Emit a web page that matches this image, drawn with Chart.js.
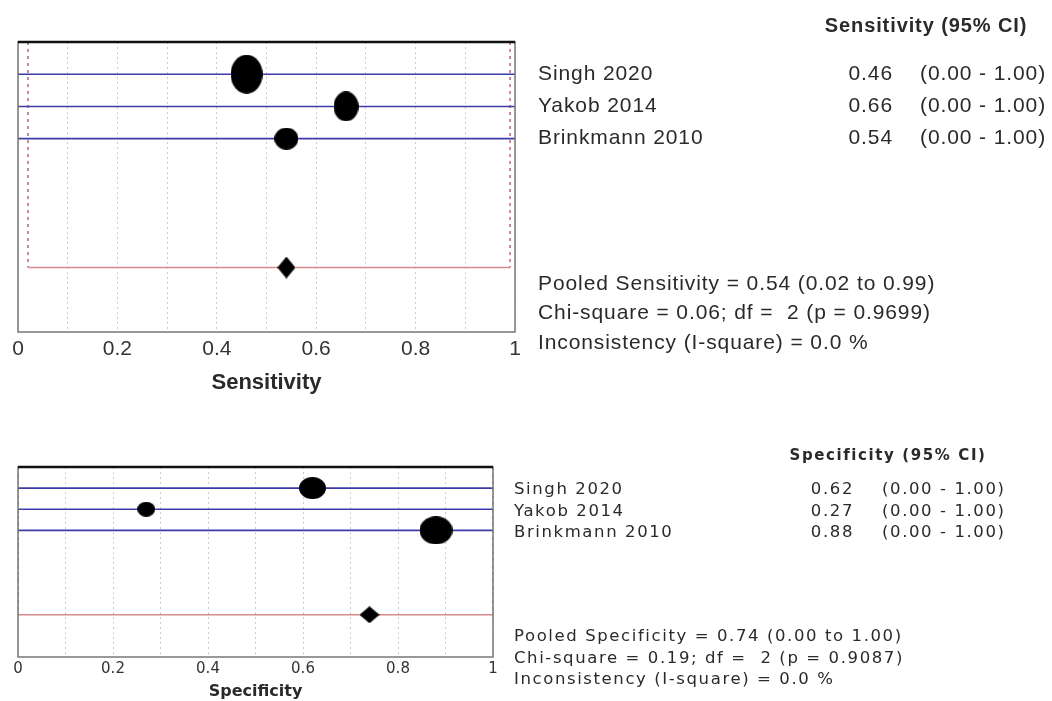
<!DOCTYPE html>
<html lang="en">
<head>
<meta charset="UTF-8" />
<title>Sensitivity / Specificity forest plot</title>
<script src="https://cdn.jsdelivr.net/npm/chart.js"></script>
<style>
	body {
		margin: 0;
		background: #fff;
		width: 1052px;
		height: 701px;
		overflow: hidden;
		position: relative;
	}
	.panel {
		position: absolute;
		left: 0;
		width: 1052px;
	}
	#sensPanel { top: 0; height: 400px; }
	#specPanel { top: 420px; height: 281px; }
</style>
</head>
<body>
<div class="panel" id="sensPanel"><canvas id="sensChart"></canvas></div>
<div class="panel" id="specPanel"><canvas id="specChart"></canvas></div>

<script>
// ---- data ----
const studies = ["Singh 2020", "Yakob 2014", "Brinkmann 2010"];
const studyRows = [1, 2, 3];
const pooledRow = 7;

const sensValues = [0.46, 0.66, 0.54];
const sensLower = [0.00, 0.00, 0.00];
const sensUpper = [1.00, 1.00, 1.00];
const sensPooled = [0.54, 0.02, 0.99]; // estimate, lower, upper
const sensStats = [
	"Pooled Sensitivity = 0.54 (0.02 to 0.99)",
	"Chi-square = 0.06; df =  2 (p = 0.9699)",
	"Inconsistency (I-square) = 0.0 %"
];

const specValues = [0.62, 0.27, 0.88];
const specLower = [0.00, 0.00, 0.00];
const specUpper = [1.00, 1.00, 1.00];
const specPooled = [0.74, 0.00, 1.00];
const specStats = [
	"Pooled Specificity = 0.74 (0.00 to 1.00)",
	"Chi-square = 0.19; df =  2 (p = 0.9087)",
	"Inconsistency (I-square) = 0.0 %"
];

const xTickLabels = ["0", "0.2", "0.4", "0.6", "0.8", "1"];

// ---- marker shapes (width, height in px) ----
const sensMarkers = [[32, 39], [25, 30], [24, 22]];
const specMarkers = [[27, 22], [18, 15], [33, 28]];

function ellipseMarker(w, h) {
	const c = document.createElement("canvas");
	c.width = w; c.height = h;
	const g = c.getContext("2d");
	g.fillStyle = "#000";
	g.beginPath();
	g.ellipse(w / 2, h / 2, w / 2, h / 2, 0, 0, Math.PI * 2);
	g.fill();
	return c;
}

function diamondMarker(w, h) {
	const c = document.createElement("canvas");
	c.width = w; c.height = h;
	const g = c.getContext("2d");
	g.fillStyle = "#000";
	g.beginPath();
	g.moveTo(w / 2, 0); g.lineTo(w, h / 2); g.lineTo(w / 2, h); g.lineTo(0, h / 2);
	g.closePath();
	g.fill();
	return c;
}

// frame + right-hand text table
const sidePanel = {
	id: "sidePanel",
	afterDraw(chart, args, o) {
		const { ctx, chartArea: a, scales: { y } } = chart;
		ctx.save();
		ctx.strokeStyle = "#777";
		ctx.lineWidth = 1.5;
		ctx.strokeRect(a.left, a.top, a.right - a.left, a.bottom - a.top);
		ctx.strokeStyle = "#111";
		ctx.lineWidth = 2.5;
		ctx.beginPath();
		ctx.moveTo(a.left, a.top);
		ctx.lineTo(a.right, a.top);
		ctx.stroke();

		ctx.fillStyle = "#2a2a2a";
		ctx.textBaseline = "middle";
		ctx.letterSpacing = o.spacing;
		ctx.font = o.headFont;
		ctx.textAlign = "center";
		ctx.fillText(o.header, o.headX, o.headY);

		ctx.font = o.font;
		ctx.beginPath();
		ctx.rect(0, 0, o.clipX, chart.height);
		ctx.clip();
		studies.forEach((name, i) => {
			const py = y.getPixelForValue(studyRows[i]) + o.rowShift;
			ctx.textAlign = "left";
			ctx.fillText(name, o.nameX, py);
			ctx.textAlign = "right";
			ctx.fillText(o.values[i].toFixed(2), o.valX, py);
			ctx.textAlign = "left";
			ctx.fillText("(" + o.lower[i].toFixed(2) + " - " + o.upper[i].toFixed(2) + ")", o.ciX, py);
		});
		o.stats.forEach((s, i) => ctx.fillText(s, o.nameX, o.statY[i]));
		ctx.restore();
	}
};

function forestChart(id, cfg) {
	const datasets = [
		{
			data: cfg.values.map((v, i) => ({ x: v, y: studyRows[i] })),
			pointStyle: cfg.markers.map(m => ellipseMarker(m[0], m[1])),
			pointRadius: 10,
			order: 0
		},
		{
			data: [{ x: cfg.pooled[0], y: pooledRow }],
			pointStyle: diamondMarker(cfg.diamond[0], cfg.diamond[1]),
			pointRadius: 10,
			order: 0
		}
	];
	cfg.values.forEach((v, i) => {
		datasets.push({
			data: [{ x: cfg.lower[i], y: studyRows[i] }, { x: cfg.upper[i], y: studyRows[i] }],
			showLine: true,
			borderColor: "#3c3ca8",
			borderWidth: 1.6,
			pointRadius: 0,
			order: 1
		});
	});
	datasets.push({
		data: [{ x: cfg.pooled[1], y: pooledRow }, { x: cfg.pooled[2], y: pooledRow }],
		showLine: true,
		borderColor: "#d88a8a",
		borderWidth: 1.5,
		pointRadius: 0,
		order: 1
	});
	[cfg.pooled[1], cfg.pooled[2]].forEach(b => {
		datasets.push({
			data: [{ x: b, y: 0 }, { x: b, y: pooledRow }],
			showLine: true,
			borderColor: "#a04060",
			borderWidth: 1.2,
			borderDash: [3, 4],
			pointRadius: 0,
			order: 1
		});
	});

	return new Chart(document.getElementById(id), {
		type: "scatter",
		data: { datasets },
		options: {
			responsive: true,
			maintainAspectRatio: false,
			animation: false,
			layout: { padding: cfg.padding },
			plugins: {
				legend: { display: false },
				tooltip: { enabled: false },
				sidePanel: cfg.side
			},
			scales: {
				x: {
					type: "linear",
					min: 0,
					max: 1,
					afterFit: s => { s.height = cfg.axisHeight; },
					grid: { color: "#cccccc", lineWidth: 1, drawTicks: false },
					border: { display: false, dash: [2, 3] },
					ticks: {
						stepSize: 0.1,
						autoSkip: false,
						maxRotation: 0,
						padding: cfg.tickPad,
						color: "#333",
						font: cfg.tickFont,
						callback: v => {
							const k = Math.round(v * 10);
							return k % 2 === 0 ? xTickLabels[k / 2] : "";
						}
					},
					title: {
						display: true,
						text: cfg.title,
						color: "#2a2a2a",
						font: cfg.titleFont,
						padding: { top: 0, bottom: cfg.titlePad }
					}
				},
				y: { type: "linear", min: 0, max: 9, reverse: true, display: false }
			}
		},
		plugins: [sidePanel]
	});
}

forestChart("sensChart", {
	values: sensValues, lower: sensLower, upper: sensUpper, pooled: sensPooled,
	markers: sensMarkers, diamond: [18, 22],
	padding: { top: 42, left: 18, right: 537, bottom: 0 },
	axisHeight: 68, tickPad: 5, titlePad: 4,
	tickFont: { family: "Liberation Sans, Arial", size: 21 },
	titleFont: { family: "Liberation Sans, Arial", size: 22, weight: "bold" },
	title: "Sensitivity",
	side: {
		header: "Sensitivity (95% CI)", headX: 926, headY: 26,
		headFont: "bold 20px 'Liberation Sans'",
		font: "21px 'Liberation Sans'", spacing: "0.9px",
		values: sensValues, lower: sensLower, upper: sensUpper, stats: sensStats,
		nameX: 538, valX: 893, ciX: 920, clipX: 1052, rowShift: 0,
		statY: [284, 313, 343]
	}
});

forestChart("specChart", {
	values: specValues, lower: specLower, upper: specUpper, pooled: specPooled,
	markers: specMarkers, diamond: [20, 17],
	padding: { top: 47, left: 18, right: 559, bottom: 0 },
	axisHeight: 44, tickPad: 3, titlePad: 0,
	tickFont: { family: "DejaVu Sans", size: 15 },
	titleFont: { family: "DejaVu Sans", size: 16, weight: "bold" },
	title: "Specificity",
	side: {
		header: "Specificity (95% CI)", headX: 888, headY: 36,
		headFont: "bold 15px 'DejaVu Sans'",
		font: "16.5px 'DejaVu Sans'", spacing: "1.6px",
		values: specValues, lower: specLower, upper: specUpper, stats: specStats,
		nameX: 514, valX: 854, ciX: 882, clipX: 1003, rowShift: 2,
		statY: [217, 239, 260]
	}
});
</script>
</body>
</html>
